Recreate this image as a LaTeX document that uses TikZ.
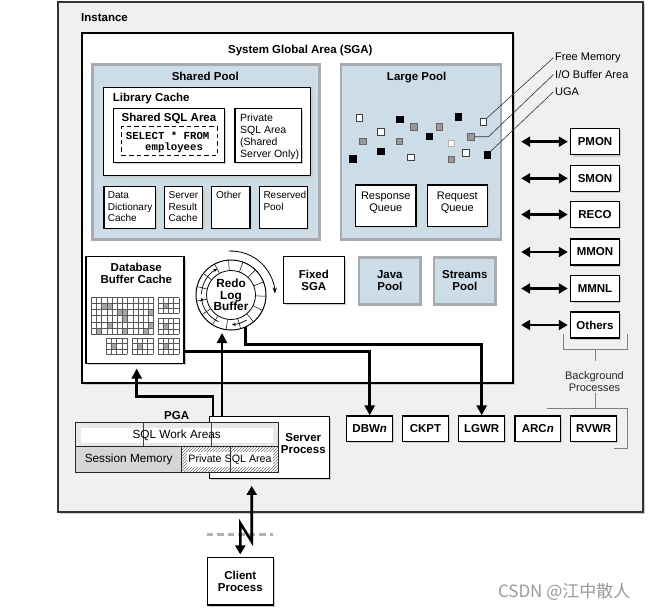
\documentclass[tikz,border=0pt]{standalone}
\usepackage{fontspec}
\setmainfont{Liberation Sans}
\newfontfamily\monof{Liberation Mono}
\newfontfamily\cjkf{Noto Sans CJK SC}
\usetikzlibrary{arrows.meta,patterns,calc}
\definecolor{poolblue}{RGB}{205,221,232}
\definecolor{pooledge}{RGB}{168,172,176}
\definecolor{instfill}{RGB}{240,240,240}
\tikzset{
  bft/.style={font=\fontsize{11.5}{11.8}\selectfont\bfseries, align=center},
  nft/.style={font=\fontsize{11}{12}\selectfont, align=center},
  smt/.style={font=\fontsize{10}{11.7}\selectfont, align=left, anchor=north west, inner sep=0pt},
  shd/.style={preaction={fill=black!20, draw=none, transform canvas={xshift=1.8pt,yshift=-1.8pt}}},
  wbox/.style={shd, draw=black, line width=1.1pt, fill=white, inner sep=0pt},
  pool/.style={draw=pooledge, line width=2.6pt, fill=poolblue, inner sep=0pt},
  proc/.style={wbox, bft, minimum width=48.6pt, minimum height=26pt},
  bproc/.style={wbox, bft, minimum width=45.6pt, minimum height=25.7pt},
  thk/.style={line width=2.6pt, -{Triangle[length=10pt,width=10pt]}},
  dbl/.style={line width=2.6pt, {Triangle[length=9pt,width=10pt]}-{Triangle[length=9pt,width=10pt]}},
  sqw/.style={draw=black!75, line width=0.6pt, fill=white, minimum size=6.5pt, inner sep=0pt},
  sqg/.style={draw=black!60, line width=0.6pt, fill=black!40, minimum size=6.5pt, inner sep=0pt},
  sqb/.style={draw=black, line width=0.6pt, fill=black, minimum size=6.5pt, inner sep=0pt},
  sql/.style={draw=black!30, line width=1.2pt, fill=white, minimum size=6.2pt, inner sep=0pt},
  lead/.style={draw=black!80, line width=0.6pt},
  brk/.style={draw=black!50, line width=0.9pt},
  gl/.style={draw=black!65, line width=0.45pt},
  ringarr/.style={line width=0.7pt, -{Stealth[length=3.8pt,width=3.4pt]}},
}
\begin{document}
\begin{tikzpicture}[x=1pt,y=-1pt]
\useasboundingbox (0,0) rectangle (648,611);
\fill[white] (0,0) rectangle (648,611);

% Instance
\node[shd, draw=black!80, line width=1.3pt, fill=instfill, minimum width=585pt, minimum height=510pt, inner sep=0pt] (inst) at (350.5,257) {};
\node[bft, anchor=base west, inner sep=0pt] (instl) at (81,21.4) {Instance};

% SGA
\node[wbox, minimum width=431pt, minimum height=350pt] (sga) at (297.5,208) {};
\node[bft, anchor=base, inner sep=0pt] (sgal) at (300.3,53.4) {System Global Area (SGA)};

% Shared pool
\node[pool, minimum width=227pt, minimum height=175pt] (shp) at (205.8,152) {};
\node[bft, anchor=base, inner sep=0pt] (shpl) at (205.3,80.8) {Shared Pool};
\node[wbox, minimum width=207.4pt, minimum height=88pt] (lib) at (207,131.7) {};
\node[bft, anchor=base west, inner sep=0pt] (libl) at (112.7,101.4) {Library Cache};
\node[wbox, minimum width=111pt, minimum height=54pt] (ssa) at (168.8,135.3) {};
\node[bft, anchor=base, inner sep=0pt] (ssal) at (169,121.4) {Shared SQL Area};
\node[draw=black, dashed, dash pattern=on 4.5pt off 3pt, line width=0.8pt, minimum width=95.6pt, minimum height=28.3pt, inner sep=0pt] (qry) at (169.5,140.8) {};
\node[font=\monof\fontsize{10.7}{10.5}\selectfont\bfseries, align=left, anchor=north west, inner sep=0pt] (qryt) at (125.7,131.8) {SELECT * FROM\\\ \ \ employees};
\node[wbox, minimum width=66.7pt, minimum height=54pt] (psa2) at (268.3,135.3) {};
\node[smt, font=\fontsize{10.5}{12}\selectfont] (psa2t) at (240,113.9) {Private\\SQL Area\\(Shared\\Server Only)};
\node[wbox, minimum width=51.7pt, minimum height=41.6pt] (ddc) at (129.8,207.5) {};
\node[smt] (ddct) at (107.7,191.4) {Data\\Dictionary\\Cache};
\node[wbox, minimum width=38.4pt, minimum height=41.6pt] (src) at (183.5,207.5) {};
\node[smt] (srct) at (168.5,191.4) {Server\\Result\\Cache};
\node[wbox, minimum width=38.3pt, minimum height=41.6pt] (oth) at (230.8,207.5) {};
\node[smt] (otht) at (216,191.4) {Other};
\node[wbox, minimum width=48pt, minimum height=41.6pt] (rsv) at (283.3,207.5) {};
\node[smt] (rsvt) at (263.3,191.4) {Reserved\\Pool};

% Large pool
\node[pool, minimum width=160pt, minimum height=175pt] (lp) at (421,152) {};
\node[bft, anchor=base, inner sep=0pt] (lpl) at (416.7,80.8) {Large Pool};
\node[wbox, minimum width=60.3pt, minimum height=41.7pt] (rspq) at (385.8,205.8) {};
\node[nft, inner sep=0pt] (rspqt) at (385.8,202.3) {Response\\Queue};
\node[wbox, minimum width=60pt, minimum height=41.7pt] (rqq) at (457.3,205.8) {};
\node[nft, inner sep=0pt] (rqqt) at (457.3,202.3) {Request\\Queue};

\node[sqw] (s1) at (359.3,118) {};
\node[sqb] (s2) at (400,119.2) {};
\node[sqb] (s3) at (458.5,116.7) {};
\node[sqw] (fm) at (483.3,121.7) {};
\node[sqg] (s5) at (414,126.7) {};
\node[sqg] (s6) at (439.3,126.7) {};
\node[sqw] (s7) at (380.7,131.8) {};
\node[sqb] (s8) at (429.5,136.5) {};
\node[sqg] (io) at (471,136.7) {};
\node[sqg] (s10) at (362.8,141.5) {};
\node[sqg] (s11) at (399.3,141.3) {};
\node[sql] (s12) at (451.5,143.3) {};
\node[sqb] (s13) at (381,151.2) {};
\node[sqw] (s14) at (466,152.7) {};
\node[sqb] (s15) at (352.8,158.8) {};
\node[sqw] (s16) at (410.8,157.5) {};
\node[sqg] (s17) at (451.4,159.2) {};
\node[sqb] (uga) at (487.2,154.8) {};

\node[nft, anchor=west, inner sep=1.5pt] (fml) at (553.5,57.7) {Free Memory};
\node[nft, anchor=west, inner sep=1.5pt] (iol) at (553.5,74.5) {I/O Buffer Area};
\node[nft, anchor=west, inner sep=1.5pt] (ugal) at (553.5,91.7) {UGA};
\draw[lead] (fm.north east) -- (fml.west);
\draw[lead] (io.east) -- ++(14,0) -- (iol.west);
\draw[lead] (uga.north east) -- (ugal.west);

% Database buffer cache
\node[wbox, minimum width=98pt, minimum height=106.6pt] (dbc) at (135,310) {};
\node[bft, inner sep=0pt] (dbct) at (136.3,273.7) {Database\\Buffer Cache};
\foreach \c/\r in {2/1,3/1,5/2,6/2,6/3,11/2,11/4,1/5,3/4,6/5,10/5}
  \fill[black!35] (91.3+\c*5.2,297.3+\r*6.117) rectangle ++(5.2,6.117);
\foreach \i in {0,...,12} \draw[gl] (91.3+\i*5.2,297.3) -- (91.3+\i*5.2,334);
\foreach \j in {0,...,6} \draw[gl] (91.3,297.3+\j*6.117) -- (153.7,297.3+\j*6.117);
\foreach \ox/\oy in {158/297.7, 158/318.4, 106.3/338.4, 132/338.4, 158/338.4} {
  \fill[black!35] (\ox+5.2,\oy+5.2) rectangle ++(5.2,5.2);
  \foreach \i in {0,...,4} \draw[gl] (\ox+\i*5.2,\oy) -- (\ox+\i*5.2,\oy+15.6);
  \foreach \j in {0,...,3} \draw[gl] (\ox,\oy+\j*5.2) -- (\ox+20.8,\oy+\j*5.2);
}

% Redo log buffer
\node[circle, draw=black, line width=1pt, fill=white, minimum size=70pt, inner sep=0pt, font=\fontsize{11.8}{11.7}\selectfont\bfseries, align=center] (redo) at (231,295) {Redo\\Log\\Buffer};
\begin{scope}[shift={(231,295)}, x=1pt, y=1pt]
  \draw[line width=0.8pt] (0,0) circle (24.5);
  \foreach \a in {-2,22,...,334} \draw[line width=0.5pt] (\a:24.5) -- (\a:35);
  \draw[ringarr] (178:29.5) arc[start angle=178, end angle=118, radius=29.5];
  \draw[ringarr] (245:29.5) arc[start angle=245, end angle=185, radius=29.5];
  \draw[ringarr] (302:29.5) arc[start angle=302, end angle=272, radius=29.5];
  \draw[line width=0.8pt, -{Stealth[length=6pt,width=4.5pt]}] (93:44) arc[start angle=93, end angle=2, radius=44];
\end{scope}

% Fixed SGA, Java, Streams
\node[wbox, bft, minimum width=61pt, minimum height=46.6pt] (fix) at (313.8,280) {Fixed\\SGA};
\node[pool, bft, minimum width=61.7pt, minimum height=47pt] (java) at (389.8,280.8) {Java\\Pool};
\node[pool, bft, minimum width=61.7pt, minimum height=47pt] (strm) at (464.8,280.8) {Streams\\Pool};

% Background processes (right column)
\node[proc] (pmon) at (595,141.7) {PMON};
\node[proc] (smon) at (595,178.3) {SMON};
\node[proc] (reco) at (595,214.5) {RECO};
\node[proc] (mmon) at (595,252) {MMON};
\node[proc] (mmnl) at (595,288.5) {MMNL};
\node[proc] (othp) at (595,325) {Others};
\foreach \p in {pmon,smon,reco,mmon,mmnl,othp}
  \draw[dbl] ([xshift=-49pt]\p.west) -- ([xshift=-2.4pt]\p.west);

% Bottom processes
\node[bproc] (dbwn) at (369.7,428.8) {DBW\textit{n}};
\node[bproc] (ckpt) at (425.5,428.8) {CKPT};
\node[bproc] (lgwr) at (481.7,428.8) {LGWR};
\node[bproc] (arcn) at (537.8,428.8) {ARC\textit{n}};
\node[bproc] (rvwr) at (593.7,428.8) {RVWR};

% bracket
\draw[brk] (563.3,334) -- (563.3,349.3) -- (627.3,349.3) -- (627.3,334);
\draw[brk] (595,349.3) -- (595,361);
\node[nft, inner sep=0pt, text=black!85] (bgp) at (594.5,381.3) {Background\\Processes};
\draw[brk] (595,393.3) -- (595,408.3);
\draw[brk] (546.7,408.3) -- (627.3,408.3) -- (627.3,448.3) -- (614,448.3);

% Server process + PGA
\node[wbox, minimum width=120.3pt, minimum height=62.3pt] (srv) at (269.2,447.2) {};
\node[bft, inner sep=0pt] (srvt) at (303.3,443.8) {Server\\Process};
\fill[black!9] (75.7,422.7) rectangle (278.3,446.7);
\fill[white] (80.7,427.7) rectangle (272.7,442.7);
\fill[black!16] (75.7,446.7) rectangle (181.7,472.7);
\fill[white] (181.7,446.7) rectangle (278.3,472.7);
\fill[pattern=north east lines, pattern color=black!55] (181.7,446.7) rectangle (278.3,472.7);
\fill[white] (186.7,451.7) rectangle (273.3,467.3);
\draw[black!75, line width=0.5pt] (143.3,422.7) -- (143.3,446.7) (211,422.7) -- (211,446.7) (230,446.7) -- (230,472.7);
\node[font=\fontsize{11.8}{12}\selectfont, inner sep=0pt] (swa) at (176.7,435.2) {SQL Work Areas};
\node[font=\fontsize{11.8}{12}\selectfont, inner sep=0pt] (sesm) at (128.7,459.7) {Session Memory};
\node[font=\fontsize{10.7}{12}\selectfont, inner sep=0pt] (psa) at (230,459.5) {Private SQL Area};
\draw[black!85, line width=1pt] (75.7,422.7) rectangle (278.3,472.7) (75.7,446.7) -- (278.3,446.7) (181.7,446.7) -- (181.7,472.7);
\node[bft, anchor=base, inner sep=0pt] (pgal) at (176.7,419) {PGA};

% Client
\node[wbox, bft, minimum width=66pt, minimum height=47.3pt] (cli) at (240.3,581.3) {Client\\Process};
\draw[black!30, line width=2.6pt, dash pattern=on 6.5pt off 4pt] (206.7,534.3) -- (272.7,534.3);

% Connectors
\draw[thk] ([yshift=-41.7pt]dbc.east) -| (dbwn.north);
\draw[thk] (redo.-66) -- ++(0,17) -| (lgwr.north);
\draw[thk] ($(srv.north west)+(13.5,0)$) -- ($(srv.north west |- redo.south)+(13.5,2.5)$);
\draw[thk] ($(srv.north west)+(4.5,0)$) -- ++(0,-19.3) -| ($(dbc.south)+(1.7,4.7)$);
\draw[dbl] ($(srv.south)+(-17.5,7)$) -- ++(0,55.7) -- ++(-11.4,-18.4) -- ($(cli.north)+(0,-2.7)$);

% watermark
\node[font=\cjkf\fontsize{17}{17}\selectfont, text=black!40, inner sep=0pt] (wm) at (564.2,592.3) {CSDN @江中散人};
\end{tikzpicture}
\end{document}
